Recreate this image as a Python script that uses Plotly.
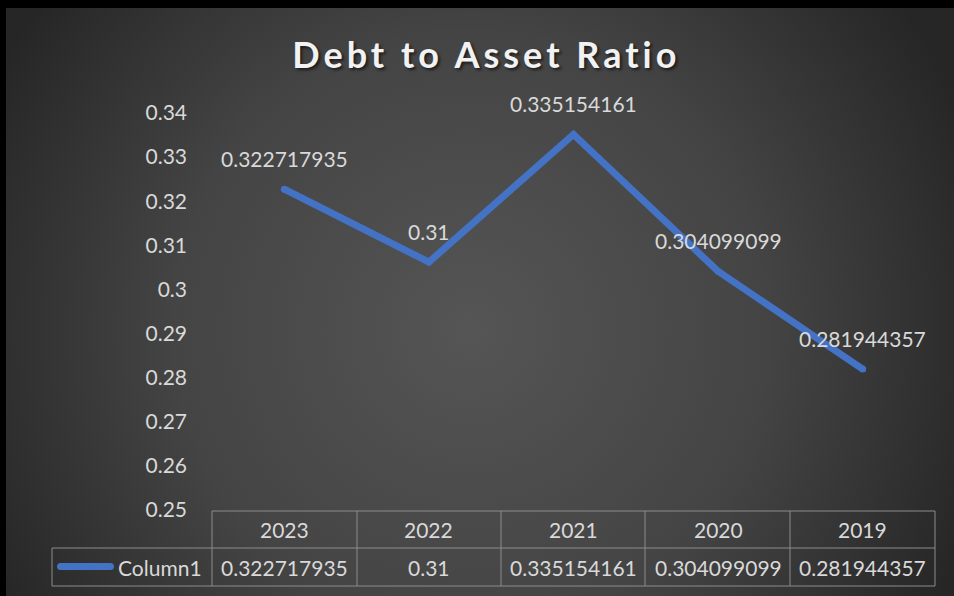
import base64
import plotly.graph_objects as go

# ---- data ----
years = ["2023", "2022", "2021", "2020", "2019"]
ratios = [0.322717935, 0.3062, 0.335154161, 0.304099099, 0.281944357]
value_labels = ["0.322717935", "0.31", "0.335154161", "0.304099099", "0.281944357"]
series_name = "Column1"
y_tick_vals = [0.25, 0.26, 0.27, 0.28, 0.29, 0.30, 0.31, 0.32, 0.33, 0.34]
y_tick_text = ["0.25", "0.26", "0.27", "0.28", "0.29", "0.3", "0.31", "0.32", "0.33", "0.34"]
title_text = "Debt to Asset Ratio"

# ---- geometry (pixels) ----
W, H = 954, 596
L, R, T, B = 212, 935, 113, 510
FONT = "Lato"
TXT = "#d9d9d9"
LINE_BLUE = "#4472C4"
GRID = "#8c8c8c"


def px(x):
    return (x - L) / (R - L)


def py(y):
    return (B - y) / (B - T)


svg = f'''<svg xmlns="http://www.w3.org/2000/svg" width="{W}" height="{H}" viewBox="0 0 {W} {H}">
<defs><radialGradient id="g" gradientUnits="userSpaceOnUse" cx="470" cy="330" r="540">
<stop offset="0" stop-color="#555555"/><stop offset="0.55" stop-color="#444444"/><stop offset="1" stop-color="#262626"/></radialGradient></defs>
<rect width="{W}" height="{H}" fill="url(#g)"/></svg>'''
bg_uri = "data:image/svg+xml;base64," + base64.b64encode(svg.encode()).decode()

idx = list(range(len(years)))

fig = go.Figure()
fig.add_trace(go.Scatter(
    x=idx, y=ratios, mode="lines+markers", name=series_name,
    line=dict(color=LINE_BLUE, width=7),
    marker=dict(color=LINE_BLUE, size=7, line=dict(width=0)),
    hoverinfo="y", showlegend=False,
))

annotations = []
# data labels
for i, v, lab in zip(idx, ratios, value_labels):
    annotations.append(dict(x=i, y=v, xref="x", yref="y", text=lab, showarrow=False,
                            yshift=31, yanchor="middle", font=dict(family=FONT, size=21, color=TXT)))
# table: year row and values row
for i, yr, lab in zip(idx, years, value_labels):
    annotations.append(dict(x=i, y=py(529.5), xref="x", yref="paper", text=yr, showarrow=False,
                            yanchor="middle", font=dict(family=FONT, size=21, color=TXT)))
    annotations.append(dict(x=i, y=py(567), xref="x", yref="paper", text=lab, showarrow=False,
                            yanchor="middle", font=dict(family=FONT, size=21, color=TXT)))
annotations.append(dict(x=px(204), y=py(567), xref="paper", yref="paper", text=series_name,
                        showarrow=False, xanchor="right", yanchor="middle",
                        font=dict(family=FONT, size=21, color=TXT)))
# title
annotations.append(dict(x=px(486), y=py(54), xref="paper", yref="paper", text="<b>" + title_text + "</b>",
                        showarrow=False, yanchor="middle",
                        font=dict(family=FONT, size=36, color="#f2f2f2",
                                  shadow="2px 2px 3px rgba(0,0,0,0.6)")))

shapes = []


def hline(x0, x1, y):
    shapes.append(dict(type="line", xref="paper", yref="paper", x0=px(x0), x1=px(x1), y0=py(y), y1=py(y),
                       line=dict(color=GRID, width=1), layer="above"))


def vline(x, y0, y1):
    shapes.append(dict(type="line", xref="paper", yref="paper", x0=px(x), x1=px(x), y0=py(y0), y1=py(y1),
                       line=dict(color=GRID, width=1), layer="above"))


hline(212, 935, 511)
hline(52, 935, 548)
hline(52, 935, 586)
vline(52, 548, 586)
for xc in [212, 357, 501, 645, 790, 935]:
    vline(xc, 511, 586)
# legend key (line with rounded ends)
shapes.append(dict(type="line", xref="paper", yref="paper", x0=px(60.5), x1=px(110.5), y0=py(566.5), y1=py(566.5),
                   line=dict(color=LINE_BLUE, width=7), layer="above"))
for cx in (60.5, 110.5):
    shapes.append(dict(type="circle", xref="paper", yref="paper", x0=px(cx - 3.5), x1=px(cx + 3.5),
                       y0=py(566.5 + 3.5), y1=py(566.5 - 3.5), fillcolor=LINE_BLUE,
                       line=dict(width=0), layer="above"))
# black frame edges
shapes.append(dict(type="rect", xref="paper", yref="paper", x0=px(0), x1=px(W), y0=py(0), y1=py(8),
                   fillcolor="black", line=dict(width=0), layer="above"))
shapes.append(dict(type="rect", xref="paper", yref="paper", x0=px(0), x1=px(6), y0=py(0), y1=py(H),
                   fillcolor="black", line=dict(width=0), layer="above"))

fig.update_layout(
    width=W, height=H,
    margin=dict(l=L, r=W - R, t=T, b=H - B, pad=0),
    paper_bgcolor="#3a3a3a", plot_bgcolor="rgba(0,0,0,0)",
    showlegend=False,
    xaxis=dict(range=[-0.5, 4.5], showticklabels=False, showgrid=False,
               zeroline=False, showline=False, fixedrange=True),
    yaxis=dict(range=[0.25, 0.34], tickvals=y_tick_vals, ticktext=y_tick_text, showgrid=False,
               zeroline=False, showline=False, ticks="", ticklabelstandoff=24,
               tickfont=dict(family=FONT, size=21, color=TXT), fixedrange=True),
    annotations=annotations,
    shapes=shapes,
    images=[dict(source=bg_uri, xref="paper", yref="paper", x=px(0), y=py(0),
                 sizex=W / (R - L), sizey=H / (B - T), xanchor="left", yanchor="top",
                 sizing="stretch", layer="below")],
)

post = (
    "document.body.style.margin='0';document.body.style.overflow='hidden';"
    "document.querySelectorAll('text.annotation-text').forEach(function(t){"
    "if(t.textContent==='" + title_text + "'){t.style.letterSpacing='4px';}});"
)
fig.write_html("out.html", config={"displayModeBar": False}, post_script=post)
